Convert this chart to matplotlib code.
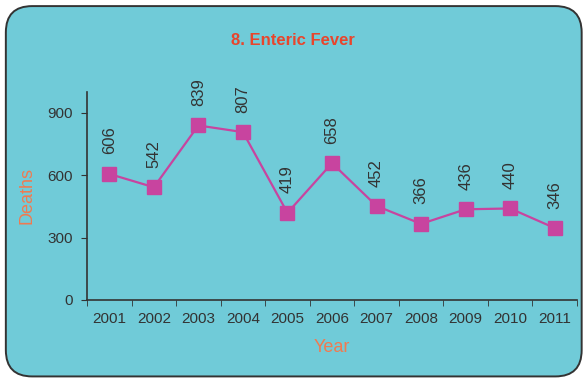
import numpy as np
import matplotlib.pyplot as plt
from matplotlib.patches import FancyBboxPatch

years = ['2001', '2002', '2003', '2004', '2005', '2006', '2007', '2008', '2009', '2010', '2011']
deaths = [606, 542, 839, 807, 419, 658, 452, 366, 436, 440, 346]
y_ticks = [0, 300, 600, 900]

bg = '#70cbd8'
line_col = '#c8449f'
fnt = ['Liberation Sans Narrow', 'Liberation Sans', 'DejaVu Sans']

fig = plt.figure(figsize=(5.84, 3.81), dpi=100)
fig.patch.set_facecolor('white')

# rounded panel behind the chart
box = FancyBboxPatch((0.010, 0.012), 0.986, 0.972, boxstyle='round,pad=0,rounding_size=0.045',
                     transform=fig.transFigure, facecolor=bg, edgecolor='#333333',
                     linewidth=1.4, mutation_aspect=584/381, zorder=-10)
fig.patches.append(box)

ax = fig.add_axes([0.149, 0.2126, 0.839, 0.546])
ax.set_facecolor('none')
ax.set_zorder(5)

x = np.arange(len(years))
ax.plot(x, deaths, color=line_col, lw=1.6, marker='s', ms=10, mfc=line_col, mec=line_col)

for xi, v in zip(x, deaths):
    ax.annotate(str(v), (xi, v), xytext=(0, 14), textcoords='offset points',
                rotation=90, ha='center', va='bottom', fontsize=12, color='#333333', family=fnt)

ax.set_xlim(-0.5, len(years) - 0.5)
ax.set_ylim(0, 1000)
ax.set_yticks(y_ticks)
ax.set_xticks(x)
ax.set_xticklabels(years)
ax.set_xticks(np.arange(-0.5, len(years)), minor=True)
ax.tick_params(axis='x', which='major', length=0, pad=9)
ax.tick_params(axis='x', which='minor', length=4, direction='out', color='#333333')
ax.tick_params(axis='y', length=4, direction='out', color='#333333', pad=6)
for lab in ax.get_xticklabels() + ax.get_yticklabels():
    lab.set_family(fnt)
    lab.set_fontsize(11)
    lab.set_color('#333333')

for s in ['top', 'right']:
    ax.spines[s].set_visible(False)
for s in ['left', 'bottom']:
    ax.spines[s].set_color('#333333')
    ax.spines[s].set_linewidth(1.2)

ax.set_xlabel('Year', color='#f07a50', fontsize=13, family=fnt, labelpad=9)
ax.set_ylabel('Deaths', color='#f07a50', fontsize=13, family=fnt, labelpad=9)
fig.text(0.502, 0.895, '8. Enteric Fever', ha='center', va='center', color='#e8452c',
         fontsize=12, fontweight='bold', family=fnt)

fig.savefig('out.png', dpi=100, facecolor='white')
